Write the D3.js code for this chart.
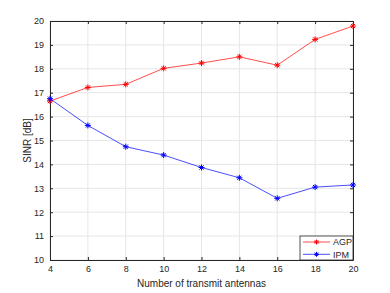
<!DOCTYPE html>
<html>
<head>
<meta charset="utf-8">
<script src="https://cdn.jsdelivr.net/npm/d3@7"></script>
<style>
  body { margin: 0; background: #fff; }
  svg { display: block; font-family: "Liberation Sans", Arial, sans-serif; }
</style>
</head>
<body>
<div id="chart"></div>
<script>
const width = 390, height = 293;
const margin = { top: 21, right: 37, bottom: 33, left: 50 };

// data
const antennas = [4, 6, 8, 10, 12, 14, 16, 18, 20];
const agp = [16.65, 17.22, 17.35, 18.02, 18.24, 18.5, 18.15, 19.23, 19.79];
const ipm = [16.75, 15.63, 14.74, 14.39, 13.87, 13.44, 12.58, 13.05, 13.14];
const xTicks = [4, 6, 8, 10, 12, 14, 16, 18, 20];
const yTicks = [10, 11, 12, 13, 14, 15, 16, 17, 18, 19, 20];

const series = [
    { name: "AGP", values: agp, color: "#ff0000" },
    { name: "IPM", values: ipm, color: "#0000ff" }
];

const svg = d3.select("#chart").append("svg")
    .attr("width", width)
    .attr("height", height);

const x = d3.scaleLinear().domain([4, 20]).range([margin.left, width - margin.right]);
const y = d3.scaleLinear().domain([10, 20]).range([height - margin.bottom, margin.top]);

const x0 = x.range()[0], x1 = x.range()[1];
const y0 = y.range()[0], y1 = y.range()[1];

// grid
svg.append("g")
    .selectAll("line.vg")
    .data(xTicks)
    .enter()
    .append("line")
    .attr("x1", d => x(d)).attr("x2", d => x(d))
    .attr("y1", y0).attr("y2", y1)
    .attr("stroke", "#e6e6e6").attr("stroke-width", 1);

svg.append("g")
    .selectAll("line.hg")
    .data(yTicks)
    .enter()
    .append("line")
    .attr("x1", x0).attr("x2", x1)
    .attr("y1", d => y(d)).attr("y2", d => y(d))
    .attr("stroke", "#e6e6e6").attr("stroke-width", 1);

// axes (matlab style, ticks pointing inward, box on)
const axisColor = "#262626";
function styleAxis(g) {
    g.select(".domain").attr("stroke", axisColor);
    g.selectAll(".tick line").attr("stroke", axisColor);
    g.selectAll(".tick text").attr("fill", axisColor).attr("font-size", 9);
}

svg.append("g")
    .attr("transform", "translate(0," + y0 + ")")
    .call(d3.axisBottom(x).tickValues(xTicks).tickSizeInner(-3).tickSizeOuter(0).tickPadding(6))
    .call(styleAxis);

svg.append("g")
    .attr("transform", "translate(0," + y1 + ")")
    .call(d3.axisTop(x).tickValues(xTicks).tickSizeInner(-3).tickSizeOuter(0).tickFormat(""))
    .call(styleAxis);

svg.append("g")
    .attr("transform", "translate(" + x0 + ",0)")
    .call(d3.axisLeft(y).tickValues(yTicks).tickSizeInner(-3).tickSizeOuter(0).tickPadding(6))
    .call(styleAxis);

svg.append("g")
    .attr("transform", "translate(" + x1 + ",0)")
    .call(d3.axisRight(y).tickValues(yTicks).tickSizeInner(-3).tickSizeOuter(0).tickFormat(""))
    .call(styleAxis);

// axis labels
svg.append("text")
    .attr("x", (x0 + x1) / 2)
    .attr("y", 287)
    .attr("text-anchor", "middle")
    .attr("font-size", 10)
    .attr("fill", axisColor)
    .text("Number of transmit antennas");

svg.append("text")
    .attr("transform", "translate(31," + ((y0 + y1) / 2) + ") rotate(-90)")
    .attr("text-anchor", "middle")
    .attr("font-size", 10)
    .attr("fill", axisColor)
    .text("SINR [dB]");

// asterisk marker
function star(g, cx, cy, color, r) {
    const a = r * 0.7;
    const segs = [[-r, 0, r, 0], [0, -r, 0, r], [-a, -a, a, a], [-a, a, a, -a]];
    for (const s of segs) {
        g.append("line")
            .attr("x1", cx + s[0]).attr("y1", cy + s[1])
            .attr("x2", cx + s[2]).attr("y2", cy + s[3])
            .attr("stroke", color).attr("stroke-width", 1);
    }
}

const line = d3.line()
    .x((d, i) => x(antennas[i]))
    .y(d => y(d));

for (const s of series) {
    svg.append("path")
        .datum(s.values)
        .attr("d", line)
        .attr("fill", "none")
        .attr("stroke", s.color)
        .attr("stroke-width", 0.7);
    const g = svg.append("g");
    s.values.forEach((v, i) => star(g, x(antennas[i]), y(v), s.color, 3));
}

// legend
const lx = 300, ly = 236, lw = x1 - 300, lh = y0 - 236;
svg.append("rect")
    .attr("x", lx).attr("y", ly)
    .attr("width", lw).attr("height", lh)
    .attr("fill", "#fff")
    .attr("stroke", axisColor).attr("stroke-width", 0.8);

series.forEach((s, i) => {
    const yy = ly + 6 + i * 12.3;
    svg.append("line")
        .attr("x1", lx + 3).attr("x2", lx + 30)
        .attr("y1", yy).attr("y2", yy)
        .attr("stroke", s.color).attr("stroke-width", 0.7);
    star(svg.append("g"), lx + 16.5, yy, s.color, 2.5);
    svg.append("text")
        .attr("x", lx + 33).attr("y", yy + 3.2)
        .attr("font-size", 9)
        .attr("fill", axisColor)
        .text(s.name);
});
</script>
</body>
</html>
